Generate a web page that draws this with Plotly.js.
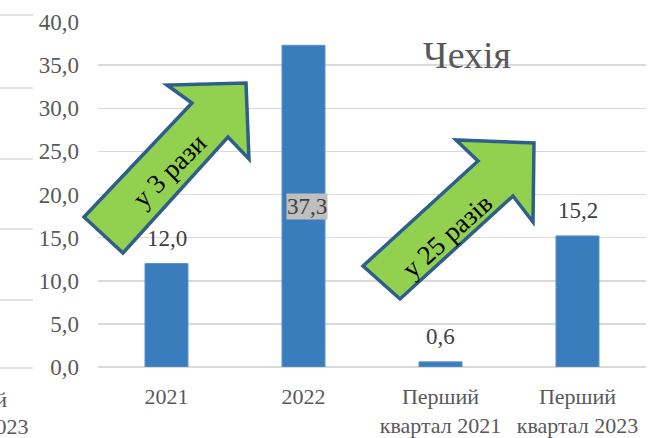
<!DOCTYPE html>
<html><head><meta charset="utf-8">
<script src="https://cdn.plot.ly/plotly-3.0.1.min.js"></script>
<style>html,body{margin:0;padding:0;background:#fff}#c{width:651px;height:438px}</style>
</head><body><div id="c"></div>
<script>
const categories = ['2021', '2022', 'Перший<br>квартал 2021', 'Перший<br>квартал 2023'];
const values = [12.0, 37.3, 0.6, 15.2];
const yTicks = [0, 5, 10, 15, 20, 25, 30, 35, 40];
const arrowTexts = ['у 3 рази', 'у 25 разів'];
const titleText = 'Чехія';

const W = 651, H = 438, L = 98, R = 5, T = 22, B = 71;
const pw = W - L - R, ph = H - T - B;
const px = x => (x - L) / pw;
const py = y => (H - B - y) / ph;
const fmt = v => v.toFixed(1).replace('.', ',');
const FONT = 'Liberation Serif';

function pathFrom(pts) {
  return 'M ' + pts.map(p => px(p[0]).toFixed(4) + ',' + py(p[1]).toFixed(4)).join(' L ') + ' Z';
}
const arrow1 = [[84,217],[192,103],[167,85],[246,83],[249,159],[228,137],[123,253]];
const arrow2 = [[363,266],[478,161],[456,140],[534,143],[533,222],[513,196],[400,299]];

const shapes = [];
[15, 88, 159, 229, 300, 368].forEach(y => shapes.push({
  type: 'line', xref: 'paper', yref: 'paper', x0: px(0), x1: px(33), y0: py(y), y1: py(y),
  line: {color: '#d9d9d9', width: 1.5}, layer: 'below'
}));
[arrow1, arrow2].forEach(a => shapes.push({
  type: 'path', xref: 'paper', yref: 'paper', path: pathFrom(a),
  fillcolor: '#92d050', line: {color: '#2e5f8a', width: 3.5}, layer: 'above'
}));

const annotations = [];
values.forEach((v, i) => {
  if (i === 1) {
    annotations.push({x: i, y: v / 2, xref: 'x', yref: 'y', text: fmt(v), showarrow: false,
      xanchor: 'center', yanchor: 'middle',
      font: {family: FONT, size: 23, color: '#404040'}, bgcolor: '#bfbfbf', borderpad: 0, xshift: 3});
  } else {
    annotations.push({x: i, y: v, xref: 'x', yref: 'y', text: fmt(v), showarrow: false,
      xanchor: 'center', yanchor: 'bottom', yshift: 11, font: {family: FONT, size: 23, color: '#404040'}});
  }
});
annotations.push({xref: 'paper', yref: 'paper', x: px(169), y: py(171), xanchor: 'center', yanchor: 'middle',
  text: arrowTexts[0], showarrow: false, textangle: -45, font: {family: FONT, size: 27, color: '#000'}});
annotations.push({xref: 'paper', yref: 'paper', x: px(447), y: py(236), xanchor: 'center', yanchor: 'middle',
  text: arrowTexts[1], showarrow: false, textangle: -42, font: {family: FONT, size: 27, color: '#000'}});
annotations.push({xref: 'paper', yref: 'paper', x: px(9), y: py(399), xanchor: 'right', yanchor: 'middle', text: 'Перший', showarrow: false,
  font: {family: FONT, size: 22, color: '#595959'}});
annotations.push({xref: 'paper', yref: 'paper', x: px(31), y: py(427), xanchor: 'right', yanchor: 'middle', text: 'квартал 2023', showarrow: false,
  font: {family: FONT, size: 22, color: '#595959'}});

const trace = {
  type: 'bar', x: categories, y: values, marker: {color: '#3a7dbd', line: {color: '#5b95cc', width: 1}},
  hoverinfo: 'none'
};

const layout = {
  width: W, height: H, margin: {l: L, r: R, t: T, b: B},
  paper_bgcolor: '#fff', plot_bgcolor: '#fff', showlegend: false, bargap: 0.686,
  title: {text: titleText, x: 467 / W, y: 1 - 55 / H, xanchor: 'center', yanchor: 'middle',
    font: {family: FONT, size: 38, color: '#595959'}},
  xaxis: {type: 'category', range: [-0.5, 3.5], tickfont: {family: FONT, size: 22, color: '#595959'}, showgrid: false,
    showline: false, zeroline: false, ticks: '', ticklabelstandoff: 14},
  yaxis: {range: [0, 40], tickvals: yTicks, ticktext: yTicks.map(fmt), tickfont: {family: FONT, size: 23, color: '#595959'},
    showgrid: true, gridcolor: '#d9d9d9', gridwidth: 1.5, zeroline: true, zerolinecolor: '#d9d9d9', zerolinewidth: 1.5,
    showline: false, ticks: '', ticklabelstandoff: 18},
  shapes: shapes, annotations: annotations
};
Plotly.newPlot('c', [trace], layout, {displayModeBar: false, staticPlot: true});
</script></body></html>
